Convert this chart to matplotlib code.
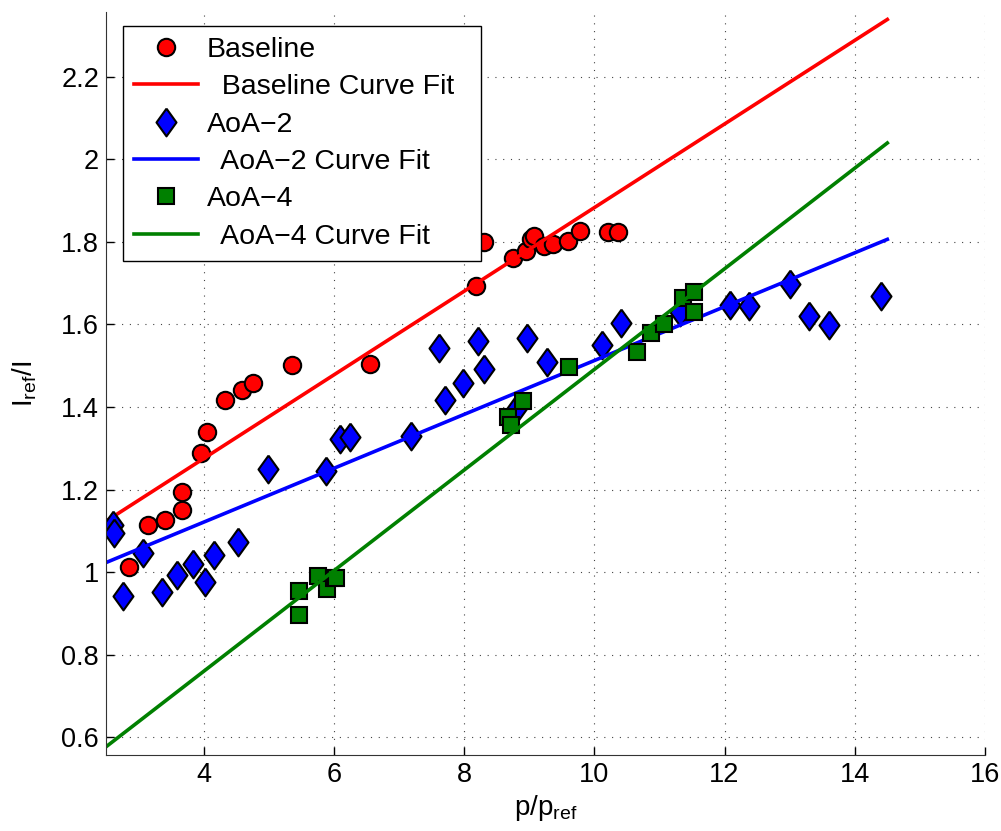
import matplotlib
matplotlib.use('Agg')
import matplotlib.pyplot as plt
import matplotlib.ticker
import numpy as np

# Baseline measurements
base_x = [2.85, 3.15, 3.41, 3.67, 3.67, 3.96, 4.05, 4.32, 4.59, 4.75, 5.36, 6.55,
          8.19, 8.30, 8.75, 8.95, 9.02, 9.07, 9.22, 9.36, 9.59, 9.78, 10.21, 10.36]
base_y = [1.013, 1.115, 1.127, 1.151, 1.195, 1.289, 1.340, 1.418, 1.442, 1.457, 1.501, 1.505,
          1.692, 1.799, 1.762, 1.777, 1.808, 1.814, 1.789, 1.796, 1.803, 1.827, 1.825, 1.823]

# AoA-2 measurements
aoa2_x = [2.61, 2.62, 2.76, 3.07, 3.36, 3.59, 3.83, 4.02, 4.16, 4.53, 4.99, 5.88,
          6.10, 6.24, 7.19, 7.61, 7.70, 7.99, 8.22, 8.30, 8.82, 8.96, 9.27, 10.12,
          10.41, 11.32, 12.08, 12.38, 13.01, 13.30, 13.61, 14.41]
aoa2_y = [1.115, 1.095, 0.943, 1.047, 0.952, 0.993, 1.020, 0.977, 1.042, 1.073, 1.250, 1.245,
          1.323, 1.328, 1.330, 1.544, 1.418, 1.459, 1.561, 1.493, 1.398, 1.568, 1.510, 1.551,
          1.604, 1.631, 1.646, 1.644, 1.699, 1.620, 1.598, 1.668]

# AoA-4 measurements
aoa4_x = [5.47, 5.47, 5.75, 5.90, 6.00, 6.03, 8.67, 8.72, 8.90, 9.61,
          10.65, 10.87, 11.07, 11.36, 11.53, 11.53]
aoa4_y = [0.897, 0.955, 0.991, 0.960, 0.986, 0.985, 1.376, 1.357, 1.415, 1.498,
          1.534, 1.580, 1.600, 1.665, 1.678, 1.629]

# linear curve fits: (slope, intercept) over the fit range
fit_range = [2.5, 14.5]
base_fit = (0.1013, 0.870)
aoa2_fit = (0.06525, 0.860)
aoa4_fit = (0.1219, 0.272)

plt.rcParams['font.family'] = ['Liberation Sans', 'DejaVu Sans']
plt.rcParams['mathtext.default'] = 'regular'

fig = plt.figure(figsize=(10.01, 8.31), dpi=100)
ax = fig.add_axes([0.1059, 0.0915, 0.8781, 0.8941])

fx = np.array(fit_range)
mk = dict(linestyle='none', markeredgecolor='k', markeredgewidth=1.5)
# MATLAB style diamond, a bit wider than matplotlib's thin diamond
diamond = [(0, 1), (0.72, 0), (0, -1), (-0.72, 0), (0, 1)]

ax.plot(base_x, base_y, marker='o', markersize=12.5, markerfacecolor='red',
        label='Baseline', **mk)
# trailing spaces keep the legend box as wide as MATLAB draws it
ax.plot(fx, base_fit[0] * fx + base_fit[1], color='red', lw=2.6,
        label='  Baseline Curve Fit  ')
ax.plot(aoa2_x, aoa2_y, marker=diamond, markersize=20, markerfacecolor='blue',
        label='AoA\u22122', **mk)
ax.plot(fx, aoa2_fit[0] * fx + aoa2_fit[1], color='blue', lw=2.6,
        label='  AoA\u22122 Curve Fit')
ax.plot(aoa4_x, aoa4_y, marker='s', markersize=12, markerfacecolor='green',
        label='AoA\u22124', **mk)
ax.plot(fx, aoa4_fit[0] * fx + aoa4_fit[1], color='green', lw=2.6,
        label='  AoA\u22124 Curve Fit')

ax.set_xlim(2.5, 16)
ax.set_ylim(0.557, 2.357)
ax.set_xticks([4, 6, 8, 10, 12, 14, 16])
ax.set_yticks([0.6, 0.8, 1.0, 1.2, 1.4, 1.6, 1.8, 2.0, 2.2])
ax.yaxis.set_major_formatter(matplotlib.ticker.FormatStrFormatter('%g'))
ax.tick_params(direction='in', length=6, width=1, labelsize=19.5, pad=5)

ax.spines['top'].set_visible(False)
ax.spines['right'].set_visible(False)
for s in ('left', 'bottom'):
    ax.spines[s].set_color('#333333')
ax.grid(True, color='#444444', linestyle=(0, (1, 6)), linewidth=0.8)
ax.set_axisbelow(True)

ax.set_xlabel('$p/p_{ref}$', fontsize=20, labelpad=4)
ax.set_ylabel('$I_{ref}/I$', fontsize=20, labelpad=16)

leg = ax.legend(loc='upper left', bbox_to_anchor=(0.1229, 0.9687),
                bbox_transform=fig.transFigure, fontsize=20.5, numpoints=1,
                fancybox=False, framealpha=1, edgecolor='k',
                handlelength=2.25, handletextpad=0.3, labelspacing=0.40,
                borderpad=0.38, borderaxespad=0)
leg.get_frame().set_linewidth(1.0)

fig.savefig('out.png', dpi=100)
